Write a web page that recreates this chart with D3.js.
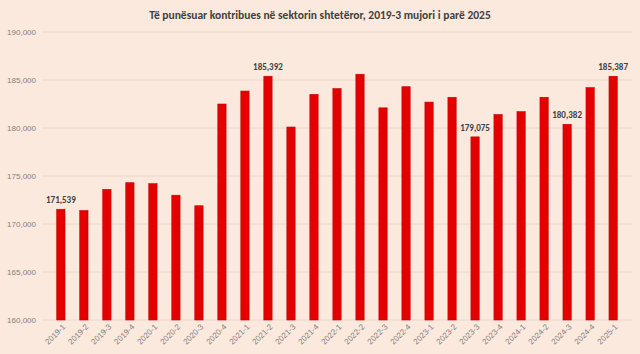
<!DOCTYPE html>
<html lang="sq">
<head>
  <meta charset="UTF-8">
  <title>Të punësuar kontribues në sektorin shtetëror</title>
  <script src="https://d3js.org/d3.v7.min.js"></script>
  <style>
    body { margin: 0; padding: 0; background: #fce9dd; }
    svg { display: block; font-family: Calibri, Carlito, "Open Sans", sans-serif; }
  </style>
</head>
<body>
  <svg id="chart" width="640" height="354"></svg>
  <script>
    const periods = ["2019-1", "2019-2", "2019-3", "2019-4", "2020-1", "2020-2", "2020-3", "2020-4",
      "2021-1", "2021-2", "2021-3", "2021-4", "2022-1", "2022-2", "2022-3", "2022-4",
      "2023-1", "2023-2", "2023-3", "2023-4", "2024-1", "2024-2", "2024-3", "2024-4", "2025-1"];
    const employed = [171539, 171400, 173600, 174300, 174200, 173000, 171900, 182500,
      183850, 185392, 180100, 183500, 184100, 185600, 182100, 184300,
      182700, 183200, 179075, 181400, 181700, 183200, 180382, 184200, 185387];
    const labelled = ["2019-1", "2021-2", "2023-3", "2024-3", "2025-1"];
    const yTicks = [160000, 165000, 170000, 175000, 180000, 185000, 190000];

    const width = 640, height = 354;
    const margin = { top: 32, right: 8, bottom: 34, left: 42 };
    const svg = d3.select("#chart");

    svg.append("rect").attr("width", width).attr("height", height).attr("fill", "#fce9dd");

    const x = d3.scaleBand()
      .domain(periods)
      .range([margin.left, width - margin.right])
      .padding(0.64);

    const y = d3.scaleLinear()
      .domain([160000, 190000])
      .range([height - margin.bottom, margin.top]);

    // gridlines
    svg.append("g")
      .selectAll("line")
      .data(yTicks)
      .join("line")
      .attr("x1", margin.left)
      .attr("x2", width - margin.right)
      .attr("y1", d => y(d))
      .attr("y2", d => y(d))
      .attr("stroke", "#ead8cc")
      .attr("stroke-width", 1);

    // y axis labels
    const yAxis = d3.axisLeft(y).tickValues(yTicks).tickFormat(d3.format(",")).tickSize(0).tickPadding(6);
    svg.append("g")
      .attr("transform", `translate(${margin.left},0)`)
      .call(yAxis)
      .call(g => g.select(".domain").remove())
      .selectAll("text")
      .attr("fill", "#7f7f7f")
      .style("font-size", "8px");

    // bars
    svg.append("g")
      .selectAll("rect")
      .data(periods)
      .join("rect")
      .attr("x", d => x(d))
      .attr("width", x.bandwidth())
      .attr("y", (d, i) => y(employed[i]))
      .attr("height", (d, i) => y(160000) - y(employed[i]))
      .attr("fill", "#e50000")
      .attr("stroke", "#c40000")
      .attr("stroke-width", 0.6);

    // x axis labels
    const xAxis = d3.axisBottom(x).tickSize(0).tickPadding(4);
    svg.append("g")
      .attr("transform", `translate(0,${y(160000)})`)
      .call(xAxis)
      .call(g => g.select(".domain").remove())
      .selectAll("text")
      .attr("fill", "#7f7f7f")
      .style("font-size", "8px")
      .attr("text-anchor", "end")
      .attr("dx", "-0.2em")
      .attr("dy", "0.6em")
      .attr("transform", "rotate(-45)");

    // value labels
    svg.append("g")
      .selectAll("text")
      .data(periods.filter(p => labelled.includes(p)))
      .join("text")
      .attr("x", d => x(d) + x.bandwidth() / 2)
      .attr("y", d => y(employed[periods.indexOf(d)]) - 6)
      .attr("text-anchor", "middle")
      .attr("fill", "#404040")
      .style("font-size", "9px")
      .style("font-weight", "bold")
      .text(d => d3.format(",")(employed[periods.indexOf(d)]));

    // title
    svg.append("text")
      .attr("x", width / 2)
      .attr("y", 19)
      .attr("text-anchor", "middle")
      .attr("fill", "#404040")
      .style("font-size", "11.5px")
      .style("font-weight", "bold")
      .text("Të punësuar kontribues në sektorin shtetëror, 2019-3 mujori i parë 2025");
  </script>
</body>
</html>
